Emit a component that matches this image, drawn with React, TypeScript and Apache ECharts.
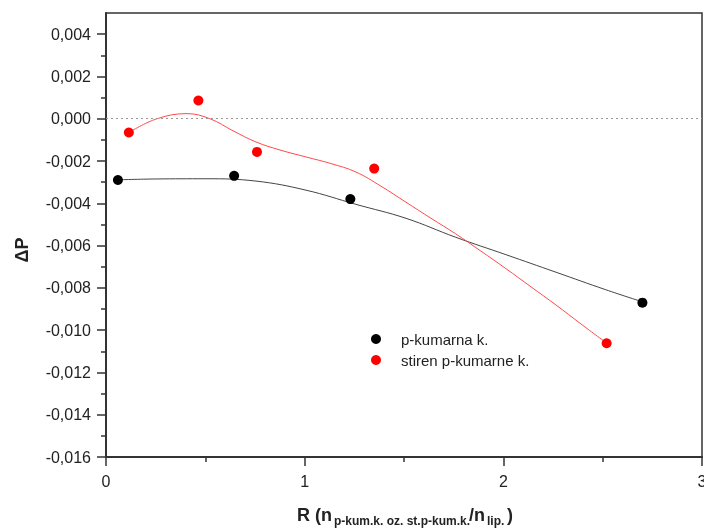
import React, { useEffect, useRef } from "react";
import * as echarts from "echarts";

const seriesNames = ["p-kumarna k.", "stiren p-kumarne k."];

// measured points
const blackX = [0.06, 0.645, 1.23, 2.7];
const blackY = [-0.0029, -0.0027, -0.0038, -0.0087];
const redX = [0.115, 0.465, 0.76, 1.35, 2.52];
const redY = [-0.00065, 0.00086, -0.00157, -0.00236, -0.01062];

// fitted curves
const blackFitX = [0.06, 0.252, 0.503, 0.755, 1.007, 1.258, 1.51, 1.761, 2.013, 2.265, 2.516, 2.703];
const blackFitY = [-0.00289, -0.00285, -0.00284, -0.00295, -0.00338, -0.00405, -0.00471, -0.00561, -0.00643, -0.00726, -0.00809, -0.00867];
const redFitX = [0.121, 0.257, 0.408, 0.523, 0.639, 0.755, 0.876, 1.007, 1.132, 1.258, 1.384, 1.51, 1.636, 1.761, 1.887, 2.013, 2.139, 2.265, 2.391, 2.521];
const redFitY = [-0.00062, 0, 0.00024, 0, -0.00057, -0.0011, -0.00148, -0.00181, -0.00212, -0.00252, -0.00319, -0.00395, -0.00471, -0.00545, -0.00626, -0.00709, -0.00795, -0.00881, -0.00971, -0.01062];

const yTicks = [-0.016, -0.014, -0.012, -0.01, -0.008, -0.006, -0.004, -0.002, 0, 0.002, 0.004];
const xTicks = [0, 1, 2, 3];

const FONT = "'Liberation Sans', Arial, sans-serif";

export default function App() {
  const ref = useRef<HTMLDivElement>(null);
  useEffect(() => {
    if (!ref.current) return;
    const chart = echarts.init(ref.current, undefined, { renderer: "svg" });
    const zip = (xs: number[], ys: number[]) => xs.map((x, i) => [x, ys[i]]);
    const yMinor = yTicks.slice(1).map((v, i) => Number(((v + yTicks[i]) / 2).toFixed(4)));
    const fmt = (v: number) => v.toFixed(3).replace(".", ",");
    chart.setOption({
      animation: false,
      textStyle: { fontFamily: FONT },
      grid: {
        left: 106,
        right: 2,
        top: 13,
        bottom: 75,
        containLabel: false,
        outerBoundsMode: "none",
        show: true,
        borderColor: "#333",
        borderWidth: 1.5,
        backgroundColor: "transparent",
      },
      legend: {
        data: seriesNames,
        orient: "vertical",
        left: 366,
        top: 326,
        itemWidth: 10,
        itemHeight: 10,
        itemGap: 5,
        icon: "circle",
        textStyle: { fontSize: 15, color: "#222", lineHeight: 16, fontFamily: FONT, padding: [0, 0, 0, 15] },
      },
      xAxis: {
        type: "value",
        min: xTicks[0],
        max: xTicks[xTicks.length - 1],
        interval: 1,
        axisLine: { onZero: false, lineStyle: { color: "#333", width: 2 } },
        axisTick: { show: true, length: 9, lineStyle: { color: "#333", width: 1.5 } },
        minorTick: { show: true, splitNumber: 2, length: 5, lineStyle: { color: "#333", width: 1.5 } },
        axisLabel: { fontSize: 16, color: "#222", margin: 16, fontFamily: FONT, hideOverlap: false },
        splitLine: { show: false },
      },
      yAxis: [
        {
          type: "value",
          min: yTicks[0],
          max: 0.005,
          interval: 0.002,
          axisLine: { onZero: false, lineStyle: { color: "#333", width: 2 } },
          axisTick: { show: true, length: 9, customValues: yTicks, lineStyle: { color: "#333", width: 1.5 } },
          axisLabel: {
            fontSize: 16,
            color: "#222",
            margin: 15,
            fontFamily: FONT,
            customValues: yTicks,
            formatter: (v: number) => (Math.abs(v - 0.005) < 1e-9 ? "" : fmt(v)),
          },
          splitLine: { show: false },
        },
        {
          type: "value",
          position: "left",
          min: yTicks[0],
          max: 0.005,
          interval: 0.002,
          axisLine: { show: false, onZero: false },
          axisTick: { show: true, length: 5, customValues: yMinor, lineStyle: { color: "#333", width: 1.5 } },
          axisLabel: { show: false },
          splitLine: { show: false },
        },
      ],
      graphic: [
        {
          type: "text",
          x: 22,
          y: 250,
          rotation: Math.PI / 2,
          style: { text: "ΔP", font: `bold 18px ${FONT}`, fill: "#222", align: "center", verticalAlign: "middle", textAlign: "center", textVerticalAlign: "middle" },
        },
        { type: "text", x: 297, y: 515, style: { text: "R (n", font: `bold 18px ${FONT}`, fill: "#222", verticalAlign: "middle", textVerticalAlign: "middle" } },
        { type: "text", x: 334, y: 521, style: { text: "p-kum.k. oz. st.p-kum.k.", font: `bold 12px ${FONT}`, fill: "#222", verticalAlign: "middle", textVerticalAlign: "middle" } },
        { type: "text", x: 469, y: 515, style: { text: "/n", font: `bold 18px ${FONT}`, fill: "#222", verticalAlign: "middle", textVerticalAlign: "middle" } },
        { type: "text", x: 487, y: 521, style: { text: "lip.", font: `bold 12px ${FONT}`, fill: "#222", verticalAlign: "middle", textVerticalAlign: "middle" } },
        { type: "text", x: 507, y: 515, style: { text: ")", font: `bold 18px ${FONT}`, fill: "#222", verticalAlign: "middle", textVerticalAlign: "middle" } },
      ],
      series: [
        {
          name: "zero",
          type: "line",
          data: [],
          markLine: {
            silent: true,
            symbol: ["none", "none"],
            label: { show: false },
            lineStyle: { type: [2, 3], color: "#999", width: 1 },
            data: [{ yAxis: 0 }],
          },
        },
        {
          name: "fitBlack",
          type: "line",
          data: zip(blackFitX, blackFitY),
          smooth: 0.4,
          showSymbol: false,
          silent: true,
          lineStyle: { color: "#444", width: 1 },
          z: 2,
        },
        {
          name: "fitRed",
          type: "line",
          data: zip(redFitX, redFitY),
          smooth: 0.4,
          showSymbol: false,
          silent: true,
          lineStyle: { color: "#ff4a4a", width: 1 },
          z: 2,
        },
        {
          name: seriesNames[0],
          type: "scatter",
          data: zip(blackX, blackY),
          symbol: "circle",
          symbolSize: 10,
          itemStyle: { color: "#000", opacity: 1 },
          z: 3,
        },
        {
          name: seriesNames[1],
          type: "scatter",
          data: zip(redX, redY),
          symbol: "circle",
          symbolSize: 10,
          itemStyle: { color: "#ff0000", opacity: 1 },
          z: 3,
        },
      ],
    });
    return () => chart.dispose();
  }, []);
  return <div ref={ref} style={{ position: "fixed", left: 0, top: 0, width: 704, height: 532 }} />;
}
